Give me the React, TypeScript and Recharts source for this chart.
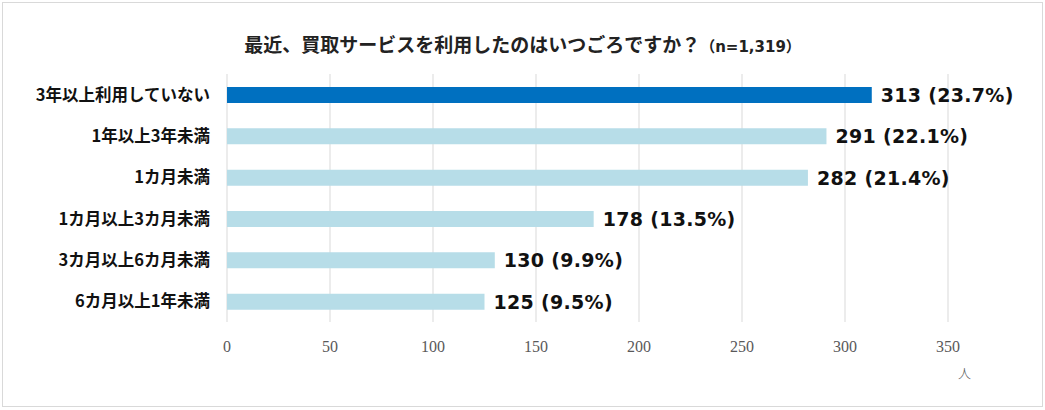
import { BarChart, Bar, XAxis, YAxis, CartesianGrid, Cell, LabelList } from "recharts";

const CATEGORIES = ["3年以上利用していない", "1年以上3年未満", "1カ月未満", "1カ月以上3カ月未満", "3カ月以上6カ月未満", "6カ月以上1年未満"];
const COUNTS = [313, 291, 282, 178, 130, 125];
const PERCENTS = ["23.7%", "22.1%", "21.4%", "13.5%", "9.9%", "9.5%"];
const X_TICKS = [0, 50, 100, 150, 200, 250, 300, 350];

const data = CATEGORIES.map((name, i) => ({ name, count: COUNTS[i], pct: PERCENTS[i] }));

const FONT = '"Noto Sans CJK JP", "Noto Sans", sans-serif';
const LABEL_FONT = '"DejaVu Sans", "Noto Sans CJK JP", sans-serif';

const ValueLabel = (props: any) => {
  const { x, y, width, height, index } = props;
  return (
    <text
      x={x + width + 9}
      y={y + height / 2}
      dy="0.36em"
      fontFamily={LABEL_FONT}
      fontWeight="bold"
      fontSize={19}
      letterSpacing={0.3}
      fill="#111"
    >
      {COUNTS[index]} ({PERCENTS[index]})
    </text>
  );
};

export default function App() {
  return (
    <div style={{ position: "absolute", left: 0, top: 0, width: 1045, height: 410, background: "#fff" }}>
      <div
        style={{
          position: "absolute",
          left: 2,
          top: 2,
          width: 1039,
          height: 403,
          border: "1px solid #d9d9d9",
        }}
      />
      <div
        style={{
          position: "absolute",
          left: 0,
          width: 1045,
          top: 31,
          textAlign: "center",
          fontFamily: FONT,
          fontWeight: "bold",
          fontSize: 19,
          color: "#222",
          lineHeight: "26px",
        }}
      >
        最近、買取サービスを利用したのはいつごろですか？<span style={{ fontFamily: LABEL_FONT, fontSize: 15 }}>（n=1,319）</span>
      </div>
      <BarChart
        width={1045}
        height={410}
        layout="vertical"
        data={data}
        margin={{ top: 74, right: 97, bottom: 58, left: 10 }}
        style={{ position: "absolute", left: 0, top: 0 }}
      >
        <CartesianGrid horizontal={false} stroke="#d9d9d9" />
        <XAxis
          type="number"
          domain={[0, 350]}
          ticks={X_TICKS}
          axisLine={false}
          tickLine={false}
          tickMargin={13}
          tick={{ fontFamily: '"Liberation Serif", serif', fontSize: 16, fill: "#595959" }}
        />
        <YAxis
          type="category"
          dataKey="name"
          width={217}
          axisLine={false}
          tickLine={false}
          tickMargin={11}
          tick={{ fontFamily: FONT, fontWeight: "bold", fontSize: 16.5, fill: "#111" }}
        />
        <Bar dataKey="count" barSize={16} isAnimationActive={false}>
          {data.map((d, i) => (
            <Cell key={d.name} fill={i === 0 ? "#0070C0" : "#B7DDE8"} />
          ))}
          <LabelList dataKey="count" content={<ValueLabel />} />
        </Bar>
      </BarChart>
      <div
        style={{
          position: "absolute",
          left: 958,
          top: 363,
          fontFamily: FONT,
          fontSize: 13,
          fontWeight: 300,
          color: "#595959",
        }}
      >
        人
      </div>
    </div>
  );
}
